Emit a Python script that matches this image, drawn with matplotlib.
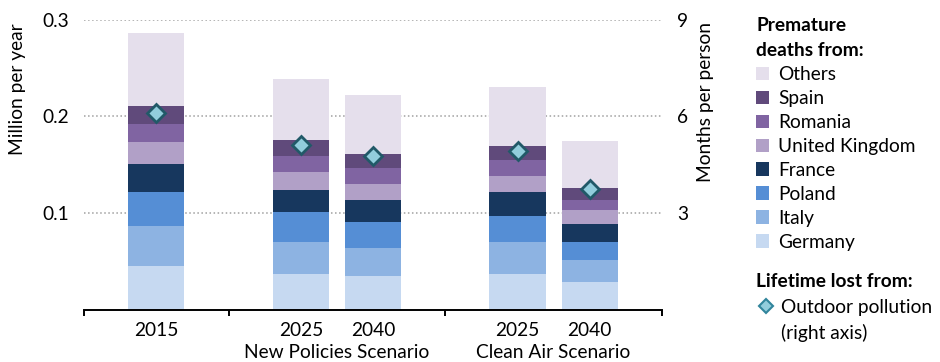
import matplotlib.pyplot as plt
from matplotlib.lines import Line2D
import numpy as np

plt.rcParams['font.family'] = ['Lato', 'DejaVu Sans']

# data (million premature deaths per year, stacked by country)
years = ['2015', '2025', '2040', '2025', '2040']
scenarios = ['New Policies Scenario', 'Clean Air Scenario']
countries = ['Germany', 'Italy', 'Poland', 'France', 'United Kingdom',
             'Romania', 'Spain', 'Others']
germany = [0.0455, 0.0372, 0.0351, 0.0372, 0.0289]
italy = [0.0413, 0.0331, 0.0289, 0.0331, 0.0227]
poland = [0.0351, 0.0310, 0.0269, 0.0269, 0.0186]
france = [0.0289, 0.0227, 0.0227, 0.0248, 0.0186]
uk = [0.0227, 0.0186, 0.0165, 0.0165, 0.0145]
romania = [0.0186, 0.0165, 0.0165, 0.0165, 0.0103]
spain = [0.0186, 0.0165, 0.0145, 0.0145, 0.0124]
others = [0.0754, 0.0630, 0.0610, 0.0610, 0.0486]
months_lost = [6.12, 5.11, 4.78, 4.93, 3.75]  # right axis

colors = ['#c6d9f1', '#8db3e2', '#558ed5', '#17375e',
          '#b1a0c7', '#8064a2', '#604a7b', '#e5dfec']

# layout
xpos = np.array([0, 2, 3, 5, 6])
group_edges = [-1, 1, 4, 7]
scenario_centers = [2.5, 5.5]
fs = 13.8

fig = plt.figure(figsize=(9.4, 3.62), dpi=100)
ax = fig.add_axes([84/940, 52/362, 578/940, 290.4/362])

series = [germany, italy, poland, france, uk, romania, spain, others]
bottom = np.zeros(len(xpos))
bars = []
for vals, col, name in zip(series, colors, countries):
    b = ax.bar(xpos, vals, 0.78, bottom=bottom, color=col, label=name, zorder=2)
    bars.append(b)
    bottom += np.array(vals)

ax.set_xlim(-1, 7)
ax.set_ylim(0, 0.3)
ax.set_yticks([0.1, 0.2, 0.3])
ax.set_yticklabels(['0.1', '0.2', '0.3'])
ax.tick_params(axis='y', length=0, pad=11, labelsize=fs)
ax.grid(axis='y', ls=':', color='#a0a0a0', lw=1.1)
ax.set_axisbelow(True)
for s in ['top', 'left', 'right']:
    ax.spines[s].set_visible(False)
ax.spines['bottom'].set_linewidth(1.4)

ax.set_xticks(xpos)
ax.set_xticklabels(years)
ax.tick_params(axis='x', which='major', length=0, pad=9, labelsize=fs)
ax.set_xticks(group_edges, minor=True)
ax.tick_params(axis='x', which='minor', length=4.5, width=1.4, direction='out')

for c, name in zip(scenario_centers, scenarios):
    ax.text(c, -0.145, name, transform=ax.get_xaxis_transform(),
            ha='center', va='center', fontsize=fs)

ax.set_ylabel('Million per year', fontsize=fs)
ax.yaxis.set_label_coords(-0.100, 0.761)

ax2 = ax.twinx()
ax2.set_ylim(0, 9)
ax2.set_yticks([3, 6, 9])
ax2.tick_params(axis='y', length=0, pad=11, labelsize=fs)
for s in ax2.spines.values():
    s.set_visible(False)
ax2.plot(xpos, months_lost, ls='none', marker='D', ms=9.5,
         mfc='#92cddc', mec='#215968', mew=2, zorder=3)
ax2.set_ylabel('Months per person', fontsize=fs)
ax2.yaxis.set_label_coords(1.061, 0.716)

leg1 = fig.legend(bars[::-1], countries[::-1], loc='upper left',
                  bbox_to_anchor=(756/940, 1 - 17/362), frameon=False,
                  title='Premature\ndeaths from:',
                  title_fontproperties={'weight': 'bold', 'size': fs},
                  alignment='left', fontsize=fs, handlelength=0.7,
                  handleheight=0.7, handletextpad=0.45, labelspacing=0.36,
                  borderpad=0, borderaxespad=0)
leg1.get_title().set_linespacing(1.6)

diamond = Line2D([], [], ls='none', marker='D', ms=7.5,
                 mfc='#92cddc', mec='#31859c', mew=1.5)
blank = Line2D([], [], ls='none')
leg2 = fig.legend([diamond, blank], ['Outdoor pollution', '(right axis)'],
                  loc='upper left', bbox_to_anchor=(756/940, 1 - 273/362),
                  frameon=False, title='Lifetime lost from:',
                  title_fontproperties={'weight': 'bold', 'size': fs},
                  alignment='left', fontsize=fs, handlelength=1.0,
                  handletextpad=0.3, labelspacing=0.45,
                  borderpad=0, borderaxespad=0)

plt.savefig('out.png', dpi=100)
